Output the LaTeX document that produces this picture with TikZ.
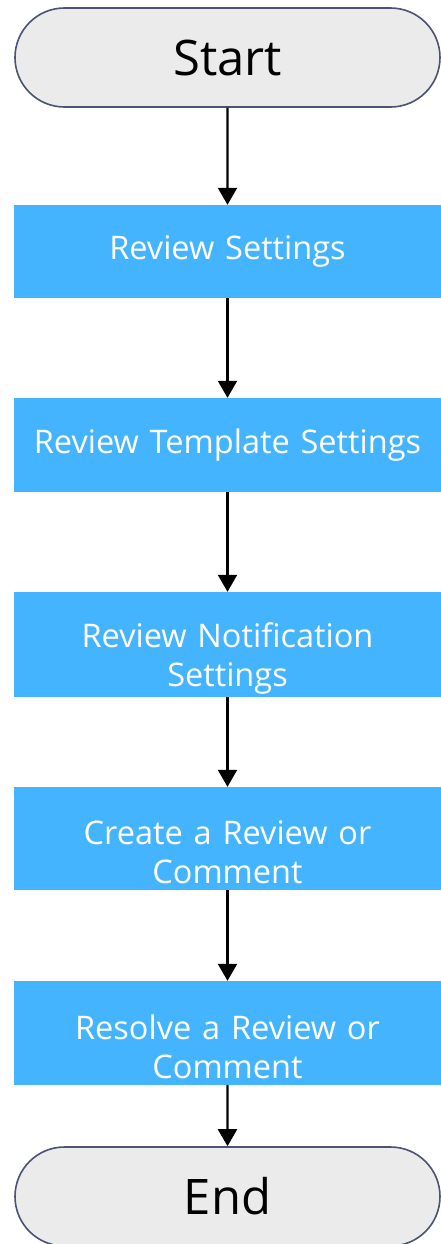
\documentclass[tikz,border=0pt]{standalone}
\usepackage{fontspec}
\setmainfont{Open Sans}
\usetikzlibrary{arrows.meta,shapes.misc}
\definecolor{boxblue}{HTML}{45B4FF}
\definecolor{termfill}{HTML}{EBEBEB}
\definecolor{termline}{HTML}{4B5275}
\tikzset{
  term/.style={draw=termline, line width=1.6pt, fill=termfill, rounded rectangle,
    minimum width=425pt, minimum height=99pt, inner sep=0pt,
    font=\fontsize{49}{54}\selectfont, text=black},
  stepbox/.style={fill=boxblue, minimum width=427pt, inner sep=0pt,
    font=\fontsize{32.5}{39}\selectfont, text=white, align=center, text width=420pt},
  twoline/.style={execute at begin node={\rule{0pt}{52pt}}},
  flow/.style={line width=2.3pt, -{Triangle[width=19pt,length=17pt]}, black},
}
\begin{document}
\begin{tikzpicture}[x=1pt,y=-1pt]
\useasboundingbox (0,0) rectangle (441,1244);
\node[term] (start) at (227.5,57.5) {Start};
\node[stepbox, minimum height=93pt] (s1) at (227.5,251.5) {Review Settings};
\node[stepbox, minimum height=94pt] (s2) at (227.5,445) {Review Template Settings};
\node[stepbox, twoline, minimum height=105pt] (s3) at (227.5,644.5) {Review Notification\\Settings};
\node[stepbox, twoline, minimum height=103pt] (s4) at (227.5,838.5) {Create a Review or\\Comment};
\node[stepbox, twoline, minimum height=104pt] (s5) at (227.5,1033) {Resolve a Review or\\Comment};
\node[term] (end) at (227.5,1196.5) {End};
\draw[flow] (start) -- (s1);
\draw[flow] (s1) -- (s2);
\draw[flow] (s2) -- (s3);
\draw[flow] (s3) -- (s4);
\draw[flow] (s4) -- (s5);
\draw[flow] (s5) -- (end);
\end{tikzpicture}
\end{document}
